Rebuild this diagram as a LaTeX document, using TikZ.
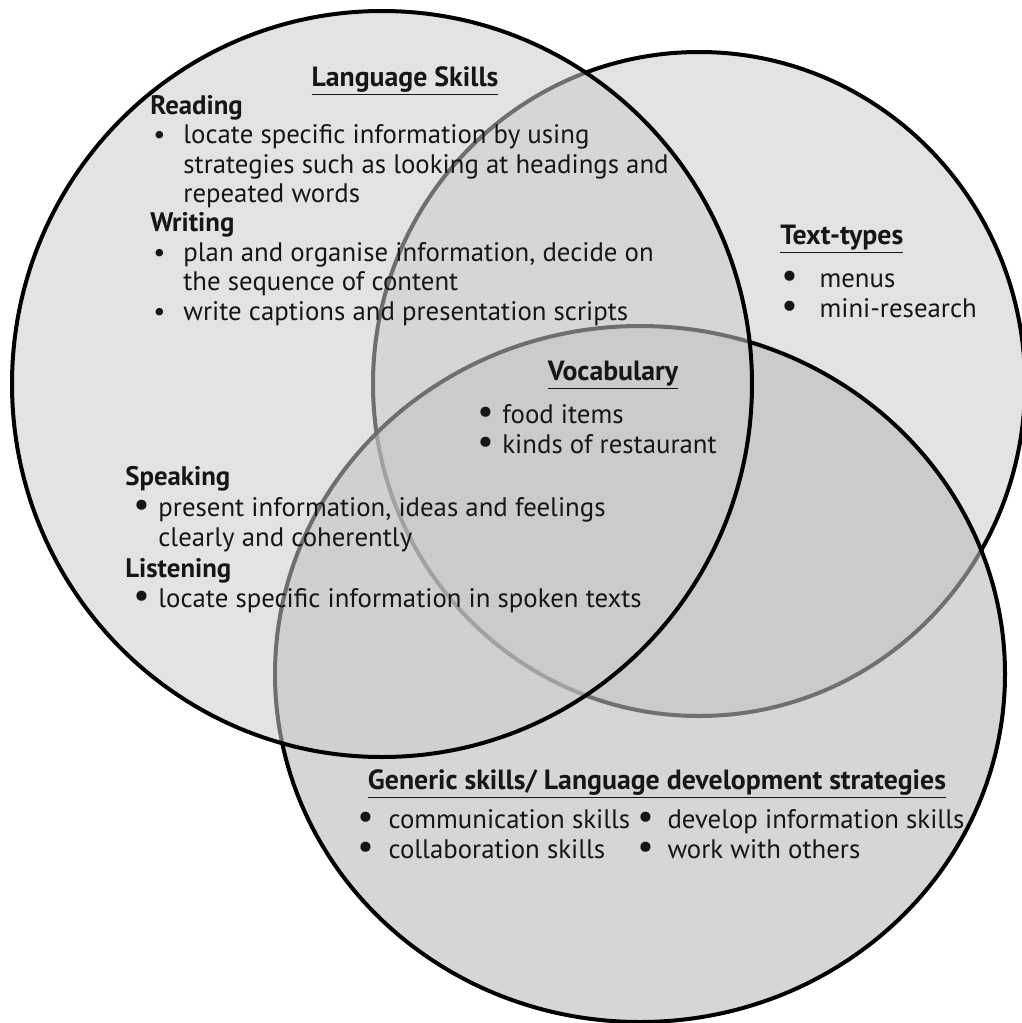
\documentclass[tikz,border=0pt]{standalone}
\usepackage{fontspec}
\setmainfont{PT Sans}
\usepackage{graphicx}
\usepackage{tikz}
\usetikzlibrary{positioning}
\definecolor{VennInk}{HTML}{161616}
\definecolor{VennFill}{HTML}{CCCCCC}
\definecolor{VennFillDark}{HTML}{BBBBBB}

% list markers: small dot with wide gap, big dot with narrow gap
\newcommand{\smallbul}{\hspace*{1.5pt}\makebox[15pt][l]{\textbullet}}
\newcommand{\smallind}{\hspace*{16.5pt}}
\newcommand{\bigbul}[1][12.5pt]{\makebox[#1][l]{\scalebox{1.35}{\textbullet}}}

\begin{document}
\begin{tikzpicture}[
    x=0.5pt, y=-0.5pt,
    set/.style={
      draw=black,
      line width=2pt,
      fill=VennFill,
      fill opacity=0.54
    },
    setdark/.style={
      set,
      fill=VennFillDark,
      fill opacity=0.6
    },
    head/.style={
      anchor=base,
      inner sep=0pt,
      text=VennInk,
      font=\bfseries\fontsize{13.9}{15}\selectfont
    },
    items/.style={
      anchor=base west,
      inner sep=0pt,
      align=left,
      text=VennInk,
      font=\fontsize{13.4}{14.7}\selectfont
    }
  ]

  \useasboundingbox (0,0) rectangle (1022,1023);
  \fill[white] (0,0) rectangle (1022,1023);

  % the three sets, drawn from bottom to top
  \draw[set] (699,384) ellipse [x radius=326, y radius=332];
  \draw[setdark] (640,674) ellipse [x radius=365, y radius=348];
  \draw[set] (382,384) ellipse [x radius=370, y radius=373];

  % language skills (list nodes sit on the baseline of their last line)
  \node[head] (lang) at (405,86) {\underline{Language Skills}};
  \node[items] (read) at (150,320) {%
    \textbf{Reading}\\
    \smallbul locate specific information by using\\
    \smallind strategies such as looking at headings and\\
    \smallind repeated words\\
    \textbf{Writing}\\
    \smallbul plan and organise information, decide on\\
    \smallind the sequence of content\\
    \smallbul write captions and presentation scripts};
  \node[items] (speak) at (125,546) {%
    \textbf{Speaking}\\[1pt]
    \hspace*{4pt}\bigbul present information, ideas and feelings\\
    \hspace*{16.5pt}clearly and coherently};
  \node[items] (listen) at (125,607) {%
    \textbf{Listening}\\
    \hspace*{4pt}\bigbul locate specific information in spoken texts};

  % vocabulary (middle)
  \node[head] (vocab) at (613,380) {\underline{Vocabulary}};
  \node[items] (vocablist) at (477,453) {%
    \bigbul food items\\
    \bigbul kinds of restaurant};

  % text-types
  \node[head, anchor=base west] (types) at (780,244) {\underline{Text-types}};
  \node[items] (typelist) at (781,317) {%
    \bigbul[15.5pt] menus\\
    \bigbul[15.5pt] mini-research};

  % generic skills
  \node[head] (generic) at (657,789) {\underline{Generic skills/ Language development strategies}};
  \node[items] (genleft) at (357,858) {%
    \bigbul[12pt] communication skills\\
    \bigbul[12pt] collaboration skills};
  \node[items] (genright) at (637,858) {%
    \bigbul[11.5pt] develop information skills\\
    \bigbul[11.5pt] work with others};

\end{tikzpicture}
\end{document}
